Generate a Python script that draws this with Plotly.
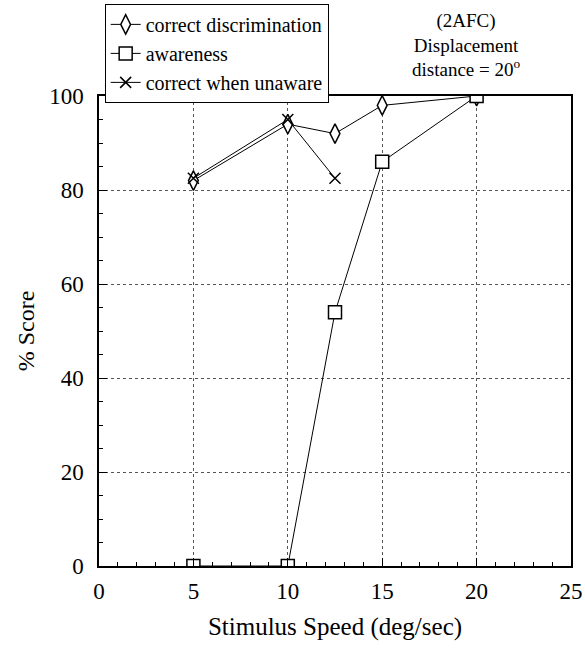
import plotly.graph_objects as go

speed = [5, 10, 12.5, 15, 20]
correct_discrimination = [82, 94, 92, 98, 100]
awareness = [0, 0, 54, 86, 100]
unaware_speed = [5, 10, 12.5]
correct_when_unaware = [82.5, 95, 82.5]

x_ticks = [0, 5, 10, 15, 20, 25]
y_ticks = [0, 20, 40, 60, 80, 100]

FONT = "Liberation Serif"

fig = go.Figure()
fig.add_trace(go.Scatter(
    x=speed, y=correct_discrimination, name="correct discrimination",
    mode="lines+markers",
    line=dict(color="black", width=1),
    marker=dict(symbol="diamond-tall", size=14, color="white", line=dict(color="black", width=1.5)),
))
fig.add_trace(go.Scatter(
    x=speed, y=awareness, name="awareness",
    mode="lines+markers",
    line=dict(color="black", width=1),
    marker=dict(symbol="square", size=13, color="white", line=dict(color="black", width=1.5)),
))
fig.add_trace(go.Scatter(
    x=unaware_speed, y=correct_when_unaware, name="correct when unaware",
    mode="lines+markers",
    line=dict(color="black", width=1),
    marker=dict(symbol="x-thin", size=11, color="black", line=dict(color="black", width=1.5)),
))

fig.add_annotation(
    text="(2AFC)<br>Displacement<br>distance = 20<sup>o</sup>",
    xref="paper", yref="paper", x=0.777, y=1.03,
    xanchor="center", yanchor="bottom", showarrow=False,
    font=dict(family=FONT, size=19, color="black"),
)

fig.update_layout(
    width=585, height=648,
    margin=dict(l=99, r=14, t=96, b=82, autoexpand=False),
    paper_bgcolor="white", plot_bgcolor="white",
    font=dict(family=FONT, size=20, color="black"),
    showlegend=True,
    legend=dict(
        x=0.012, y=1.196, xanchor="left", yanchor="top",
        bgcolor="white", bordercolor="black", borderwidth=1,
        font=dict(family=FONT, size=20, color="black"),
        itemwidth=30, tracegroupgap=0,
    ),
)

fig.update_xaxes(
    range=[0, 25], tickvals=x_ticks,
    showline=True, linecolor="black", linewidth=1.5, mirror=True,
    ticks="inside", ticklen=8, tickcolor="black",
    minor=dict(dtick=1, ticks="inside", ticklen=4, tickcolor="black", showgrid=False),
    showgrid=True, gridcolor="#555", griddash="dot", gridwidth=1,
    zeroline=False,
    ticklabelstandoff=4,
    title=dict(text="Stimulus Speed (deg/sec)", font=dict(family=FONT, size=25), standoff=14),
    tickfont=dict(family=FONT, size=23),
)
fig.update_yaxes(
    range=[0, 100], tickvals=y_ticks,
    showline=True, linecolor="black", linewidth=1.5, mirror=True,
    ticks="inside", ticklen=8, tickcolor="black",
    minor=dict(dtick=5, ticks="inside", ticklen=4, tickcolor="black", showgrid=False),
    showgrid=True, gridcolor="#555", griddash="dot", gridwidth=1,
    zeroline=False,
    ticklabelstandoff=9,
    title=dict(text="% Score", font=dict(family=FONT, size=24), standoff=8),
    tickfont=dict(family=FONT, size=23),
)

fig.write_html(
    "out.html",
    config={"displayModeBar": False},
    post_script="document.body.style.margin='0';",
)
